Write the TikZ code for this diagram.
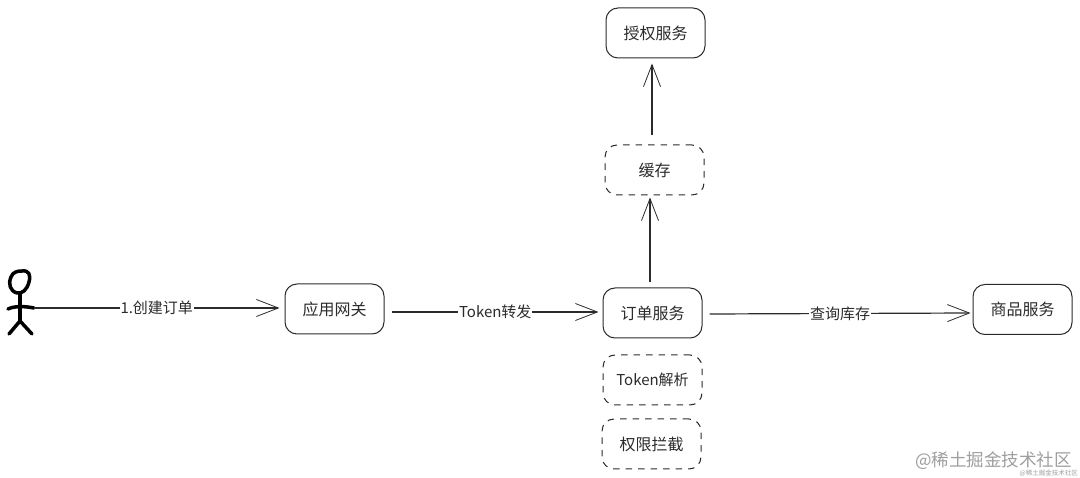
\documentclass[tikz,border=0pt]{standalone}
\usepackage{fontspec}
\setmainfont{Noto Sans CJK SC}
\usetikzlibrary{arrows.meta}
\definecolor{ink}{HTML}{2B2B2B}
\tikzset{
  x=1pt,y=-1pt,
  boxbase/.style={draw=ink,line width=1pt,rounded corners=12pt,minimum width=99pt,minimum height=50pt,inner sep=0pt,text=ink,font=\fontsize{16}{18}\selectfont},
  solidbox/.style={boxbase},
  dashbox/.style={boxbase,dash pattern=on 6.5pt off 6pt},
  flow/.style={draw=ink,line width=1.2pt,-{Straight Barb[length=22pt,width=17pt,line width=.8pt]}},
  flowlabel/.style={fill=white,inner sep=1pt,text=ink,font=\fontsize{15}{17}\selectfont},
  limb/.style={draw=black,line width=3.5pt,line cap=round,line join=round},
  mark1/.style={text=black!38,font=\fontsize{17.5}{20}\selectfont,inner sep=0pt},
  mark2/.style={text=black!38,font=\fontsize{6.5}{8}\selectfont,inner sep=0pt}
}
\begin{document}
\begin{tikzpicture}
\useasboundingbox (0,0) rectangle (1080,478);
\node[solidbox] (auth) at (655.5,33) {授权服务};
\node[dashbox] (cache) at (654.5,170) {缓存};
\node[solidbox] (order) at (652.5,313) {订单服务};
\node[dashbox,font=\fontsize{15}{17}\selectfont] (parse) at (652.5,380) {Token解析};
\node[dashbox] (perm) at (651.5,444) {权限拦截};
\node[solidbox] (gateway) at (334.5,309) {应用网关};
\node[solidbox] (goods) at (1022.5,309.5) {商品服务};
% person
\draw[limb] (22,271) .. controls (29,270) and (31,275) .. (29,282) .. controls (27,290) and (22,294) .. (17,293) .. controls (10,291) and (8,284) .. (11,277) .. controls (13,272) and (17,271) .. (22,271) -- cycle;
\coordinate (neck) at (20,293);
\coordinate (hip) at (20,321);
\coordinate (armL) at (8,309);
\coordinate (armR) at (34,308);
\coordinate (footL) at (9,334);
\coordinate (footR) at (32,334);
\draw[limb] (neck) -- (hip);
\draw[limb] (armL) .. controls (14,306) and (24,306) .. (armR);
\draw[limb] (footL) -- (hip) -- (footR);
% connectors
\draw[flow] (armR) -- node[flowlabel,pos=.5] (l1) {1.创建订单} ([xshift=-5pt,yshift=1pt]gateway.west);
\coordinate (g1) at ([xshift=7.5pt,yshift=-3pt]gateway.east);
\draw[flow] (g1) -- node[flowlabel] (l2) {Token转发} ([xshift=-4pt,yshift=1pt]order.west);
\coordinate (o1) at ([xshift=7pt,yshift=-1pt]order.east);
\draw[flow] (o1) -- node[flowlabel] (l3) {查询库存} ([xshift=-2pt,yshift=-3.5pt]goods.west);
\draw[flow] ([xshift=-2.5pt,yshift=5pt]order.north) -- ([xshift=-4.5pt,yshift=-2pt]cache.south);
\draw[flow] ([xshift=-2.5pt,yshift=9pt]cache.north) -- ([xshift=-3.5pt,yshift=-5pt]auth.south);
% watermark
\node[mark1,anchor=east] (wm) at (1072,461) {@稀土掘金技术社区};
\node[mark2,anchor=east] (wm2) at (1078,473.5) {@稀土掘金技术社区};
\end{tikzpicture}
\end{document}
